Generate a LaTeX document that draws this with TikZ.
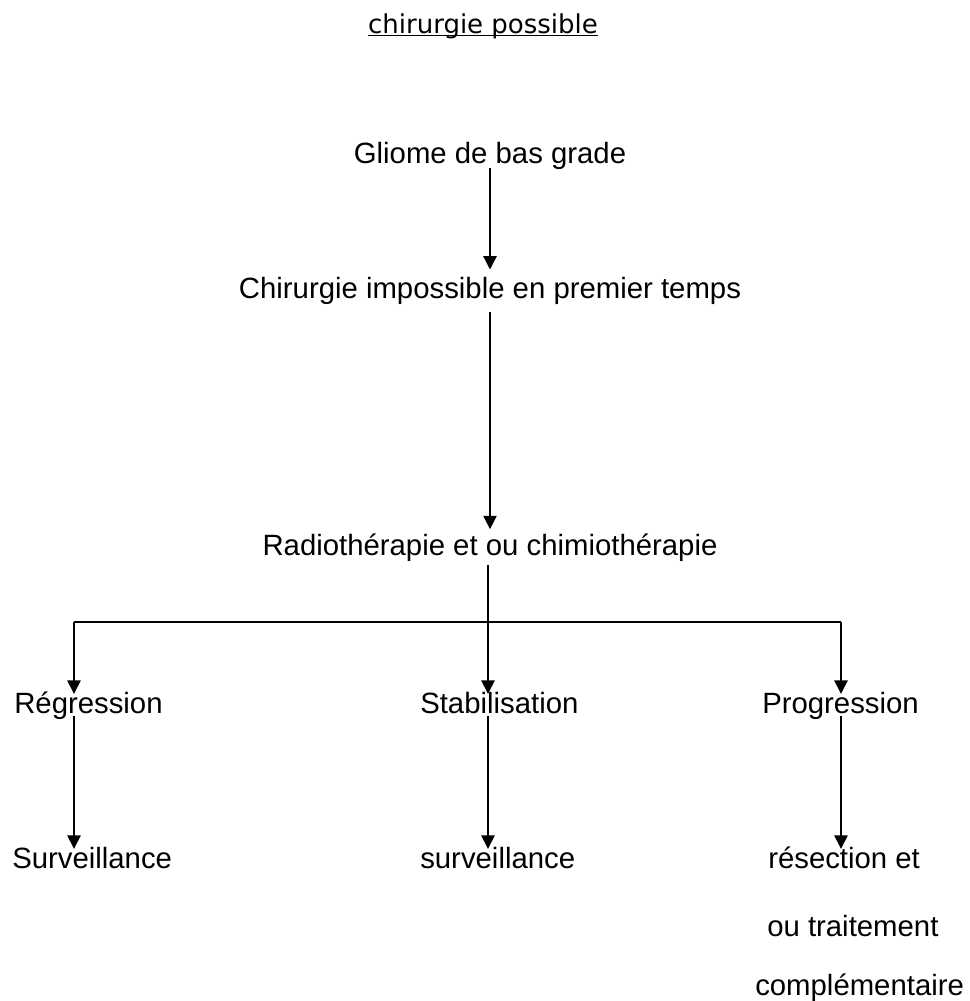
\documentclass[tikz,border=0pt]{standalone}
\usepackage{fontspec}
\setmainfont{Liberation Sans}
\newfontfamily\titlefont{DejaVu Sans}
\usetikzlibrary{arrows.meta}
\tikzset{
  lbl/.style={inner sep=0pt, anchor=base, text height=0.72em, text depth=0.21em, font=\fontsize{22}{26}\selectfont},
  lblw/.style={lbl, anchor=base west},
  link/.style={line width=1pt},
  arr/.style={link, -{Triangle[width=10pt,length=10pt]}}
}
\begin{document}
\begin{tikzpicture}[x=0.75pt,y=-0.75pt]
\useasboundingbox (0,0) rectangle (970,1001);
\node [inner sep=0pt, anchor=base, font=\titlefont\fontsize{19.5}{22}\selectfont] (title) at (483,33) {chirurgie possible};
\draw [line width=1.2pt] ([yshift=-1.8pt]title.base west) -- ([yshift=-1.8pt]title.base east);

\node [lbl] (gliome) at (490,163) {Gliome de bas grade};
\node [lbl] (chir) at (490,298) {Chirurgie impossible en premier temps};
\node [lbl] (radio) at (490,555) {Radiothérapie et ou chimiothérapie};

\node [lblw] (regr) at (14,713) {Régression};
\node [lblw] (stab) at (420,713) {Stabilisation};
\node [lblw] (prog) at (762,713) {Progression};

\node [lblw] (surv1) at (12,868) {Surveillance};
\node [lblw] (surv2) at (420,868) {surveillance};
\node [lblw] (res1) at (768,868) {résection et};
\node [lblw] (res2) at (767,936) {ou traitement};
\node [lblw] (res3) at (755,995) {complémentaire};

\coordinate (forkA) at (74,622);
\coordinate (forkB) at (488,622);
\coordinate (forkC) at (841,622);

\draw [arr, shorten <=1.5pt, shorten >=14pt] (gliome.south) -- (chir.north);
\draw [arr, shorten <=8pt, shorten >=12pt] (chir.south) -- (radio.north);
\draw [link, shorten <=5pt] (radio.south -| forkB) -- (forkB);
\draw [link] (forkA) -- (forkC);

\draw [arr, shorten >=7pt] (forkA) -- (forkA |- regr.north);
\draw [arr, shorten >=7pt] (forkB) -- (forkB |- stab.north);
\draw [arr, shorten >=7pt] (forkC) -- (forkC |- prog.north);

\draw [arr, shorten >=7pt] (forkA |- regr.south) -- (forkA |- surv1.north);
\draw [arr, shorten >=7pt] (forkB |- stab.south) -- (forkB |- surv2.north);
\draw [arr, shorten >=7pt] (forkC |- prog.south) -- (forkC |- res1.north);
\end{tikzpicture}
\end{document}
